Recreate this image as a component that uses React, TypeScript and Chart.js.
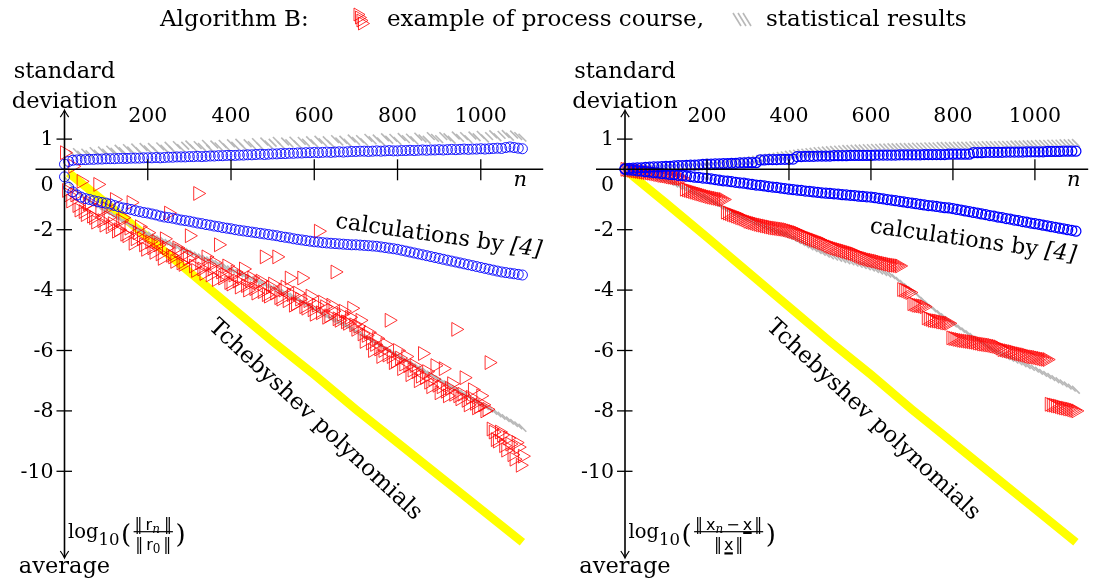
import React, { useEffect, useRef } from "react";
import { Chart, registerables } from "chart.js";

Chart.register(...registerables);

// Iteration index n is sampled every STEP iterations; "Mid" arrays sit halfway between.
const STEP = 10;

const xTickValues = [200, 400, 600, 800, 1000];
const yTickValues = [1, -2, -4, -6, -8, -10];

// Tchebyshev polynomial convergence (identical in both panels)
const tchebyshevN = [10, 100, 200, 300, 400, 500, 600, 700, 800, 900, 1000, 1100];
const tchebyshevLog = [-0.12, -1.12, -2.25, -3.4, -4.55, -5.7, -6.8, -7.95, -9.05, -10.15, -11.25, -12.35];

// ---- Left panel: log10(||r_n|| / ||r_0||) ----
const residualStdRef = [
  0.17, 0.26, 0.3, 0.31, 0.32, 0.32, 0.33, 0.33, 0.34, 0.34,
  0.35, 0.35, 0.35, 0.36, 0.36, 0.36, 0.37, 0.37, 0.37, 0.38,
  0.38, 0.38, 0.39, 0.38, 0.39, 0.4, 0.4, 0.41, 0.41, 0.41,
  0.42, 0.42, 0.43, 0.42, 0.43, 0.44, 0.44, 0.45, 0.45, 0.46,
  0.46, 0.46, 0.47, 0.47, 0.48, 0.48, 0.49, 0.5, 0.49, 0.5,
  0.51, 0.51, 0.52, 0.52, 0.53, 0.53, 0.54, 0.54, 0.55, 0.55,
  0.56, 0.55, 0.56, 0.57, 0.56, 0.57, 0.58, 0.57, 0.58, 0.59,
  0.59, 0.6, 0.6, 0.59, 0.6, 0.61, 0.6, 0.61, 0.62, 0.61,
  0.61, 0.62, 0.62, 0.63, 0.62, 0.63, 0.64, 0.63, 0.64, 0.64,
  0.65, 0.64, 0.65, 0.66, 0.65, 0.66, 0.67, 0.66, 0.67, 0.67,
  0.68, 0.67, 0.68, 0.69, 0.7, 0.69, 0.72, 0.74, 0.72, 0.7, 0.68,
];
const residualAvgRef = [
  -0.25, -0.6, -0.75, -0.85, -0.92, -0.97, -1.0, -1.04, -1.07, -1.1,
  -1.12, -1.15, -1.2, -1.24, -1.28, -1.3, -1.33, -1.37, -1.4, -1.43,
  -1.45, -1.48, -1.51, -1.55, -1.58, -1.6, -1.62, -1.65, -1.68, -1.7,
  -1.72, -1.75, -1.78, -1.8, -1.83, -1.85, -1.88, -1.9, -1.93, -1.95,
  -1.97, -2.0, -2.02, -2.04, -2.06, -2.08, -2.1, -2.12, -2.14, -2.16,
  -2.18, -2.2, -2.23, -2.25, -2.27, -2.3, -2.32, -2.34, -2.36, -2.38,
  -2.4, -2.41, -2.43, -2.44, -2.45, -2.46, -2.47, -2.48, -2.49, -2.5,
  -2.5, -2.51, -2.52, -2.53, -2.54, -2.55, -2.57, -2.59, -2.61, -2.63,
  -2.65, -2.68, -2.71, -2.74, -2.77, -2.8, -2.83, -2.86, -2.89, -2.92,
  -2.95, -2.98, -3.01, -3.04, -3.07, -3.1, -3.13, -3.16, -3.19, -3.22,
  -3.25, -3.28, -3.31, -3.34, -3.37, -3.4, -3.42, -3.44, -3.46, -3.48, -3.5,
];
const residualStdStat = [
  null, null, 0.5, 0.57, 0.48, 0.55, 0.5, 0.6, 0.52, 0.62,
  0.55, 0.65, 0.58, 0.68, 0.6, 0.7, 0.62, 0.72, 0.6, 0.74,
  0.66, 0.74, 0.62, 0.76, 0.68, 0.78, 0.64, 0.8, 0.7, 0.78,
  0.82, 0.7, 0.8, 0.74, 0.84, 0.68, 0.82, 0.76, 0.84, 0.72,
  0.86, 0.78, 0.88, 0.74, 0.86, 0.8, 0.9, 0.76, 0.92, 0.82,
  0.88, 0.94, 0.8, 0.92, 0.86, 0.95, 0.82, 0.94, 0.88, 0.96,
  0.86, 0.98, 0.9, 0.96, 0.84, 1.0, 0.92, 0.98, 0.88, 1.02,
  0.94, 1.0, 0.9, 1.04, 0.96, 1.02, 0.92, 1.06, 0.98, 1.04,
  0.94, 1.07, 1.0, 1.05, 0.96, 1.08, 1.02, 0.98, 1.1, 1.04,
  1.0, 1.1, 1.06, 0.98, 1.12, 1.04, 1.1, 1.0, 1.12, 1.06,
  1.14, 1.02, 1.1, 1.16, 1.06, 1.14, 1.17, 1.08, 1.15, 1.1, 1.05,
];
const residualAvgStat = [
  null, -0.4, -0.6, -0.75, -0.85, -0.95, -1.05, -1.15, -1.22, -1.3,
  -1.38, -1.46, -1.54, -1.62, -1.7, -1.78, -1.86, -1.94, -2.0, -2.08,
  -2.15, -2.2, -2.26, -2.32, -2.38, -2.44, -2.5, -2.56, -2.62, -2.68,
  -2.74, -2.8, -2.86, -2.92, -2.97, -3.02, -3.08, -3.14, -3.2, -3.26,
  -3.32, -3.38, -3.44, -3.5, -3.56, -3.62, -3.68, -3.74, -3.8, -3.86,
  -3.92, -3.98, -4.04, -4.1, -4.16, -4.22, -4.3, -4.38, -4.46, -4.54,
  -4.62, -4.7, -4.78, -4.86, -4.94, -5.0, -5.06, -5.12, -5.2, -5.28,
  -5.36, -5.44, -5.52, -5.6, -5.68, -5.76, -5.84, -5.92, -6.0, -6.08,
  -6.16, -6.24, -6.32, -6.4, -6.48, -6.56, -6.64, -6.72, -6.8, -6.88,
  -6.96, -7.04, -7.12, -7.2, -7.28, -7.36, -7.44, -7.52, -7.6, -7.68,
  -7.76, -7.84, -7.92, -8.0, -8.08, -8.16, -8.24, -8.32, -8.4, -8.48, -8.56,
];
const residualExample = [
  0.55, -0.85, 0.1, -1.2, -0.4, -1.5, -1.1, -1.6, -0.5, -1.7,
  -1.3, -1.9, -1.0, -2.0, -1.6, -2.2, -1.1, -2.3, -1.9, -2.5,
  -2.1, -2.6, -2.4, -2.8, -2.3, -1.45, -2.9, -2.6, -3.1, -2.8,
  -2.2, -3.2, -0.8, -3.3, -2.9, -3.5, -3.1, -2.5, -3.6, -3.2,
  -3.8, -3.4, -3.9, -3.3, -4.0, -3.6, -4.1, -3.7, -2.9, -4.2,
  -3.8, -2.9, -4.3, -3.9, -3.6, -4.5, -4.1, -3.6, -4.6, -4.2,
  -4.8, -2.05, -4.4, -4.9, -4.5, -3.4, -5.0, -4.7, -5.1, -4.6,
  -5.3, -5.0, -5.7, -5.4, -6.0, -5.6, -6.2, -5.8, -5.0, -6.4,
  -6.0, -6.6, -6.2, -6.8, -6.5, -7.0, -6.1, -6.7, -7.2, -6.5,
  -7.4, -6.6, -7.5, -7.1, -5.3, -7.6, -6.9, -7.8, -7.3, -7.9,
  -7.5, -8.0, -6.4, -8.7, -9.0, -8.8, -9.3, -9.1, -9.6, -9.2, -9.5,
];
const residualExampleMid = [
  -0.7, -1.05, -0.85, -1.35, -1.4, -1.15, -1.55, -1.75, -1.35, -1.85,
  -1.6, -1.8, -2.05, -1.7, -2.15, -1.95, -2.45, -2.1, -2.3, -2.65,
  -2.4, -2.75, -2.5, -2.95, -2.6, -2.85, -3.05, -2.7, -3.15, -2.95,
  -2.9, -3.35, -3.1, -3.45, -3.15, -3.3, -3.65, -3.4, -3.5, -3.75,
  -3.5, -3.7, -3.55, -3.85, -3.7, -3.95, -3.75, -4.05, -4.15, -3.9,
  -4.1, -4.25, -4.0, -4.35, -4.15, -4.45, -4.3, -4.55, -4.35, -4.65,
  -4.5, -4.75, -4.55, -4.85, -4.7, -4.95, -4.8, -5.05, -4.9, -5.15,
  -5.2, -5.45, -5.5, -5.75, -5.8, -5.95, -6.0, -6.15, -6.2, -6.35,
  -6.25, -6.45, -6.5, -6.65, -6.7, -6.85, -6.9, -7.05, -6.95, -7.15,
  -7.2, -7.35, -7.25, -7.45, -7.5, -7.45, -7.65, -7.55, -7.75, -7.85,
  -7.8, -7.95, -8.6, -8.95, -8.7, -9.15, -8.9, -9.45, -9.05, -9.8,
];

// ---- Right panel: log10(||x_n - x|| / ||x||) ----
const errorStdRef = [
  0.02, 0.03, 0.04, 0.05, 0.05, 0.06, 0.07, 0.08, 0.08, 0.09,
  0.1, 0.1, 0.11, 0.12, 0.12, 0.13, 0.14, 0.14, 0.15, 0.16,
  0.17, 0.17, 0.18, 0.18, 0.19, 0.19, 0.2, 0.2, 0.21, 0.21,
  0.22, 0.22, 0.22, 0.31, 0.31, 0.32, 0.32, 0.32, 0.33, 0.33,
  0.33, 0.34, 0.42, 0.42, 0.43, 0.43, 0.43, 0.44, 0.44, 0.44,
  0.44, 0.45, 0.45, 0.45, 0.45, 0.46, 0.46, 0.46, 0.46, 0.46,
  0.46, 0.47, 0.47, 0.47, 0.47, 0.47, 0.47, 0.48, 0.48, 0.48,
  0.48, 0.48, 0.48, 0.49, 0.49, 0.49, 0.49, 0.49, 0.49, 0.5,
  0.5, 0.5, 0.5, 0.5, 0.5, 0.55, 0.55, 0.55, 0.56, 0.56,
  0.56, 0.56, 0.56, 0.57, 0.57, 0.57, 0.57, 0.57, 0.58, 0.58,
  0.58, 0.58, 0.58, 0.59, 0.59, 0.59, 0.59, 0.6, 0.6, 0.6, 0.6,
];
const errorAvgRef = [
  0.0, -0.02, -0.03, -0.05, -0.06, -0.08, -0.09, -0.11, -0.12, -0.14,
  -0.15, -0.17, -0.18, -0.2, -0.21, -0.23, -0.24, -0.26, -0.27, -0.29,
  -0.3, -0.32, -0.34, -0.36, -0.38, -0.39, -0.41, -0.43, -0.45, -0.46,
  -0.48, -0.5, -0.52, -0.53, -0.55, -0.57, -0.59, -0.6, -0.62, -0.64,
  -0.66, -0.67, -0.69, -0.7, -0.72, -0.73, -0.75, -0.76, -0.78, -0.79,
  -0.8, -0.81, -0.82, -0.84, -0.85, -0.86, -0.87, -0.89, -0.9, -0.91,
  -0.92, -0.94, -0.96, -0.98, -1.0, -1.02, -1.04, -1.06, -1.08, -1.1,
  -1.12, -1.14, -1.16, -1.18, -1.2, -1.21, -1.23, -1.25, -1.27, -1.28,
  -1.3, -1.33, -1.35, -1.38, -1.4, -1.43, -1.45, -1.48, -1.5, -1.53,
  -1.55, -1.58, -1.6, -1.63, -1.65, -1.68, -1.7, -1.73, -1.75, -1.78,
  -1.8, -1.82, -1.85, -1.87, -1.9, -1.92, -1.95, -1.97, -2.0, -2.02, -2.05,
];
const errorStdStat = [
  0.0, 0.01, 0.01, 0.02, 0.02, 0.03, 0.03, 0.04, 0.04, 0.05,
  0.05, 0.06, 0.06, 0.07, 0.07, 0.08, 0.08, 0.09, 0.09, 0.1,
  0.1, 0.11, 0.12, 0.14, 0.16, 0.18, 0.2, 0.22, 0.24, 0.26,
  0.28, 0.3, 0.32, 0.34, 0.36, 0.38, 0.4, 0.42, 0.44, 0.46,
  0.48, 0.5, 0.52, 0.54, 0.55, 0.57, 0.58, 0.6, 0.61, 0.62,
  0.63, 0.64, 0.65, 0.66, 0.67, 0.67, 0.68, 0.69, 0.69, 0.7,
  0.7, 0.71, 0.71, 0.72, 0.72, 0.73, 0.73, 0.73, 0.74, 0.74,
  0.74, 0.75, 0.75, 0.75, 0.76, 0.76, 0.76, 0.77, 0.77, 0.77,
  0.77, 0.78, 0.78, 0.78, 0.78, 0.79, 0.79, 0.79, 0.8, 0.8,
  0.8, 0.8, 0.81, 0.81, 0.81, 0.82, 0.82, 0.82, 0.83, 0.83,
  0.83, 0.84, 0.84, 0.84, 0.85, 0.85, 0.85, 0.86, 0.86, 0.86, 0.87,
];
const errorAvgStat = [
  0.0, -0.03, -0.06, -0.09, -0.12, -0.15, -0.19, -0.23, -0.27, -0.31,
  -0.35, -0.41, -0.47, -0.53, -0.59, -0.65, -0.71, -0.77, -0.83, -0.89,
  -0.95, -1.03, -1.11, -1.19, -1.27, -1.35, -1.41, -1.47, -1.53, -1.59,
  -1.65, -1.71, -1.77, -1.83, -1.89, -1.95, -2.0, -2.05, -2.1, -2.15,
  -2.2, -2.27, -2.34, -2.41, -2.48, -2.55, -2.61, -2.67, -2.73, -2.79,
  -2.85, -2.89, -2.93, -2.97, -3.01, -3.05, -3.09, -3.13, -3.17, -3.21,
  -3.25, -3.3, -3.35, -3.4, -3.45, -3.5, -3.6, -3.7, -3.8, -3.9,
  -4.0, -4.12, -4.24, -4.36, -4.48, -4.6, -4.7, -4.8, -4.9, -5.0,
  -5.1, -5.19, -5.28, -5.37, -5.46, -5.55, -5.64, -5.73, -5.82, -5.91,
  -6.0, -6.06, -6.12, -6.18, -6.24, -6.3, -6.36, -6.42, -6.48, -6.54,
  -6.6, -6.67, -6.74, -6.81, -6.88, -6.95, -7.02, -7.09, -7.16, -7.23, -7.3,
];
const errorExample = [
  0.0, -0.02, -0.04, -0.06, -0.08, -0.1, -0.12, -0.14, -0.17, -0.2,
  -0.22, -0.25, -0.27, -0.29, -0.31, -0.68, -0.72, -0.76, -0.8, -0.84,
  -0.88, -0.92, -0.95, -0.98, -1.0, -1.45, -1.5, -1.55, -1.6, -1.65,
  -1.72, -1.76, -1.8, -1.84, -1.87, -1.9, -1.93, -1.95, -1.97, -1.99,
  -2.02, -2.06, -2.1, -2.16, -2.22, -2.28, -2.33, -2.38, -2.43, -2.48,
  -2.55, -2.6, -2.64, -2.68, -2.72, -2.76, -2.8, -2.86, -2.92, -2.96,
  -3.0, -3.03, -3.06, -3.1, -3.13, -3.16, -3.18, -3.2, -4.0, -4.05,
  -4.45, -4.5, -4.52, -4.55, -4.95, -5.0, -5.02, -5.05, -5.08, -5.1,
  -5.6, -5.63, -5.66, -5.68, -5.7, -5.72, -5.75, -5.78, -5.8, -5.82,
  -5.85, -5.88, -5.97, -6.0, -6.03, -6.06, -6.1, -6.13, -6.16, -6.2,
  -6.22, -6.25, -6.28, -6.3, -7.8, -7.83, -7.86, -7.9, -7.93, -7.96, -8.0,
];
const errorExampleMid = [
  -0.01, -0.03, -0.05, -0.07, -0.09, -0.11, -0.13, -0.15, -0.18, -0.21,
  -0.23, -0.26, -0.28, -0.3, -0.66, -0.7, -0.74, -0.78, -0.82, -0.86,
  -0.9, -0.93, -0.96, -0.99, -1.42, -1.47, -1.52, -1.57, -1.62, -1.68,
  -1.74, -1.78, -1.82, -1.85, -1.88, -1.91, -1.94, -1.96, -1.98, -2.0,
  -2.04, -2.08, -2.13, -2.19, -2.25, -2.3, -2.35, -2.4, -2.45, -2.52,
  -2.57, -2.62, -2.66, -2.7, -2.74, -2.78, -2.83, -2.89, -2.94, -2.98,
  -3.01, -3.04, -3.08, -3.11, -3.14, -3.17, -3.19, -3.98, -4.02, -4.08,
  -4.47, -4.51, -4.53, -4.92, -4.97, -5.01, -5.03, -5.06, -5.09, -5.58,
  -5.61, -5.64, -5.67, -5.69, -5.71, -5.73, -5.76, -5.79, -5.81, -5.83,
  -5.86, -5.92, -5.98, -6.01, -6.04, -6.08, -6.11, -6.14, -6.18, -6.21,
  -6.23, -6.26, -6.29, -7.78, -7.81, -7.84, -7.88, -7.91, -7.94, -7.98,
];

const SERIF = '"DejaVu Serif"';
const SANS = '"DejaVu Sans"';

type Seg = { t: string; f: string; dy?: number; ul?: boolean; gap?: number };

function segsWidth(ctx: CanvasRenderingContext2D, segs: Seg[]) {
  let w = 0;
  for (const s of segs) {
    ctx.font = s.f;
    w += ctx.measureText(s.t).width + (s.gap || 0);
  }
  return w;
}

function drawSegs(ctx: CanvasRenderingContext2D, segs: Seg[], x: number, y: number) {
  let cx = x;
  for (const s of segs) {
    ctx.font = s.f;
    const w = ctx.measureText(s.t).width;
    ctx.fillText(s.t, cx, y + (s.dy || 0));
    if (s.ul) ctx.fillRect(cx + 0.5, y + 2, w - 1, 2.2);
    cx += w + (s.gap || 0);
  }
  return cx;
}

function drawCentered(ctx: CanvasRenderingContext2D, segs: Seg[], cx: number, y: number) {
  drawSegs(ctx, segs, cx - segsWidth(ctx, segs) / 2, y);
}

const barFont = `16px ${SERIF}`;
const fracSans = `16px ${SANS}`;
const fracSub = `italic 12px ${SERIF}`;
const fracSubUp = `12px ${SERIF}`;
const bars = "\u2016";

const labelSpecs: Record<string, any> = {
  residual: {
    num: [
      { t: bars, f: barFont, gap: 3 },
      { t: "r", f: fracSans },
      { t: "n", f: fracSub, dy: 3, gap: 4 },
      { t: bars, f: barFont },
    ],
    den: [
      { t: bars, f: barFont, gap: 3 },
      { t: "r", f: fracSans },
      { t: "0", f: fracSubUp, dy: 3, gap: 3 },
      { t: bars, f: barFont },
    ],
    calcAt: [897, -2.41],
    tchebAt: [602, -8.3],
    axisEnd: 1150,
  },
  error: {
    num: [
      { t: bars, f: barFont, gap: 3 },
      { t: "x", f: fracSans },
      { t: "n", f: fracSub, dy: 3, gap: 3 },
      { t: "\u2212", f: barFont, gap: 3 },
      { t: "x", f: fracSans, ul: true, gap: 2 },
      { t: bars, f: barFont },
    ],
    den: [
      { t: bars, f: barFont, gap: 2 },
      { t: "x", f: fracSans, ul: true, gap: 2 },
      { t: bars, f: barFont },
    ],
    calcAt: [847, -2.57],
    tchebAt: [605, -8.3],
    axisEnd: 1130,
  },
};

function arrowHead(ctx: CanvasRenderingContext2D, x: number, y: number, dir: number) {
  ctx.beginPath();
  ctx.moveTo(x - 4.2, y - dir * 7);
  ctx.quadraticCurveTo(x - 1, y - dir * 2.5, x, y);
  ctx.quadraticCurveTo(x + 1, y - dir * 2.5, x + 4.2, y - dir * 7);
  ctx.stroke();
}

const panelDecor = {
  id: "panelDecor",
  afterDatasetsDraw(chart: any, _args: any, opts: any) {
    const spec = labelSpecs[opts.kind];
    const { ctx } = chart;
    const xs = chart.scales.x;
    const ys = chart.scales.y;
    const ax = xs.getPixelForValue(0);
    const ay = ys.getPixelForValue(0);
    ctx.save();
    ctx.strokeStyle = "#000";
    ctx.fillStyle = "#000";
    ctx.lineCap = "butt";

    // axes
    ctx.lineWidth = 1.6;
    ctx.beginPath();
    ctx.moveTo(ax - 29, ay);
    ctx.lineTo(xs.getPixelForValue(spec.axisEnd), ay);
    ctx.stroke();
    const topY = ys.getPixelForValue(1.96);
    const botY = ys.getPixelForValue(-12.87);
    ctx.beginPath();
    ctx.moveTo(ax, topY + 1);
    ctx.lineTo(ax, botY - 1);
    ctx.stroke();
    ctx.lineWidth = 1.2;
    arrowHead(ctx, ax, topY, -1);
    arrowHead(ctx, ax, botY, 1);

    // ticks
    ctx.lineWidth = 1.3;
    for (const t of xTickValues) {
      const px = xs.getPixelForValue(t);
      ctx.beginPath();
      ctx.moveTo(px, ay - 10);
      ctx.lineTo(px, ay + 11);
      ctx.stroke();
    }
    for (const t of yTickValues) {
      const py = ys.getPixelForValue(t);
      ctx.beginPath();
      ctx.moveTo(ax - 8, py);
      ctx.lineTo(ax + 7.5, py);
      ctx.stroke();
    }

    // tick labels
    ctx.font = `20.5px ${SERIF}`;
    ctx.textAlign = "center";
    ctx.textBaseline = "middle";
    for (const t of xTickValues) {
      ctx.fillText(String(t), xs.getPixelForValue(t), ay - 53);
    }
    ctx.textAlign = "right";
    for (const t of yTickValues) {
      ctx.fillText(String(t), ax - 11, ys.getPixelForValue(t) + 1);
    }
    ctx.fillText("0", ax - 11, ay + 16);
    ctx.textAlign = "center";
    ctx.font = `italic 21px ${SERIF}`;
    ctx.fillText("n", xs.getPixelForValue(1095), ay + 11);

    // axis captions
    ctx.textBaseline = "alphabetic";
    ctx.font = `22.5px ${SERIF}`;
    ctx.fillText("standard", ax, ay - 91.3);
    ctx.fillText("deviation", ax, ay - 61.3);
    ctx.fillText("average", ax, ay + 403.5);

    // log10( fraction )
    ctx.textAlign = "left";
    let cx = ax + 3.5;
    const base = ay + 368.3;
    cx = drawSegs(ctx, [{ t: "log", f: `19.5px ${SERIF}` }], cx, base);
    cx = drawSegs(ctx, [{ t: "10", f: `16.5px ${SERIF}` }], cx, base + 7.5);
    cx = drawSegs(ctx, [{ t: "(", f: `26px ${SERIF}` }], cx + 1.5, base + 5.5);
    const fw = Math.max(segsWidth(ctx, spec.num), segsWidth(ctx, spec.den)) + 2;
    const fc = cx + 2.5 + fw / 2;
    drawCentered(ctx, spec.num, fc, ay + 360.5);
    drawCentered(ctx, spec.den, fc, ay + 381);
    ctx.fillRect(fc - fw / 2, ay + 361.8, fw, 1.2);
    drawSegs(ctx, [{ t: ")", f: `26px ${SERIF}` }], fc + fw / 2 + 2.5, base + 5.5);

    // rotated curve labels
    const calc: Seg[] = [
      { t: "calculations by ", f: `22.3px ${SERIF}` },
      { t: "[4]", f: `italic 22.3px ${SERIF}` },
    ];
    ctx.save();
    ctx.translate(xs.getPixelForValue(spec.calcAt[0]), ys.getPixelForValue(spec.calcAt[1]));
    ctx.rotate((8 * Math.PI) / 180);
    drawCentered(ctx, calc, 0, 0);
    ctx.restore();

    ctx.save();
    ctx.translate(xs.getPixelForValue(spec.tchebAt[0]), ys.getPixelForValue(spec.tchebAt[1]));
    ctx.rotate((43 * Math.PI) / 180);
    ctx.textAlign = "center";
    ctx.textBaseline = "middle";
    ctx.font = `23px ${SERIF}`;
    ctx.fillText("Tchebyshev polynomials", 0, 0);
    ctx.restore();

    ctx.restore();
  },
};

const toPoints = (vals: (number | null)[], offset = 0) =>
  vals
    .map((v, i) => (v === null ? null : { x: offset + i * STEP, y: v }))
    .filter((p) => p !== null) as { x: number; y: number }[];

const clear = "rgba(0,0,0,0)";

function buildDatasets(s: any, blueWidth: number) {
  const blue = {
    pointStyle: "circle",
    pointRadius: 5,
    pointBorderWidth: blueWidth,
    pointBorderColor: "#0000ff",
    pointBackgroundColor: clear,
    order: 1,
    clip: false,
  };
  const red = {
    pointStyle: "triangle",
    pointRotation: 90,
    pointRadius: 8,
    pointBorderWidth: 0.8,
    pointBorderColor: "#ff0000",
    pointBackgroundColor: clear,
    order: 2,
    clip: false,
  };
  const grey = {
    pointStyle: "line",
    pointRotation: 45,
    pointRadius: 5.5,
    pointBorderWidth: 1.6,
    pointBorderColor: "#b8b8b8",
    order: 3,
    clip: false,
  };
  return [
    { label: "calculations by [4] (std)", data: toPoints(s.stdRef), ...blue },
    { label: "calculations by [4] (avg)", data: toPoints(s.avgRef), ...blue },
    { label: "example of process course", data: toPoints(s.example), ...red },
    { label: "example of process course", data: toPoints(s.exampleMid, STEP / 2), ...red },
    { label: "statistical results (std)", data: toPoints(s.stdStat), ...grey },
    { label: "statistical results (avg)", data: toPoints(s.avgStat), ...grey },
    {
      label: "Tchebyshev polynomials",
      data: tchebyshevN.map((n, i) => ({ x: n, y: tchebyshevLog[i] })),
      showLine: true,
      borderColor: "#ffff00",
      borderWidth: 8.5,
      borderCapStyle: "butt",
      pointRadius: 0,
      order: 4,
      clip: false,
    },
  ];
}

type PanelProps = {
  left: number;
  width: number;
  kind: string;
  padding: { left: number; right: number; top: number; bottom: number };
  series: any;
  blueWidth: number;
};

function Panel({ left, width, kind, padding, series, blueWidth }: PanelProps) {
  const ref = useRef<HTMLCanvasElement>(null);
  useEffect(() => {
    const chart = new Chart(ref.current as HTMLCanvasElement, {
      type: "scatter",
      data: { datasets: buildDatasets(series, blueWidth) as any },
      options: {
        animation: false,
        responsive: false,
        devicePixelRatio: 1,
        layout: { padding },
        events: [],
        scales: {
          x: { type: "linear", min: 0, max: 1130, display: false },
          y: { type: "linear", min: -13, max: 3, display: false },
        },
        plugins: {
          legend: { display: false },
          tooltip: { enabled: false },
          panelDecor: { kind },
        } as any,
      },
      plugins: [panelDecor as any],
    });
    return () => chart.destroy();
  }, []);
  return (
    <canvas
      ref={ref}
      width={width}
      height={582}
      style={{ position: "absolute", left, top: 0, width, height: 582 }}
    />
  );
}

const titleFont: React.CSSProperties = {
  position: "absolute",
  top: 4,
  font: `23px ${SERIF}`,
  lineHeight: "28px",
  whiteSpace: "pre",
  color: "#000",
};

function ProcessIcon() {
  return (
    <svg width={24} height={26} style={{ position: "absolute", left: 351, top: 6 }}>
      {[0, 1, 2, 3].map((k) => (
        <path
          key={k}
          d={`M${3 + k * 1.5} ${2 + k * 3} L${14 + k * 1.5} ${8.5 + k * 3} L${3 + k * 1.5} ${15 + k * 3} Z`}
          fill="none"
          stroke="#ff0000"
          strokeWidth={0.8}
        />
      ))}
    </svg>
  );
}

function StatIcon() {
  return (
    <svg width={24} height={26} style={{ position: "absolute", left: 731, top: 6 }}>
      {[0, 1, 2].map((k) => (
        <line
          key={k}
          x1={2 + k * 5}
          y1={7}
          x2={10 + k * 5}
          y2={20}
          stroke="#b8b8b8"
          strokeWidth={1.6}
        />
      ))}
    </svg>
  );
}

export default function App() {
  return (
    <div style={{ position: "absolute", left: 0, top: 0, width: 1097, height: 582, background: "#fff", overflow: "hidden" }}>
      <Panel
        left={0}
        width={548}
        kind="residual"
        blueWidth={0.9}
        padding={{ left: 64.5, right: 13.1, top: 78.7, bottom: 20.1 }}
        series={{
          stdRef: residualStdRef,
          avgRef: residualAvgRef,
          stdStat: residualStdStat,
          avgStat: residualAvgStat,
          example: residualExample,
          exampleMid: residualExampleMid,
        }}
      />
      <Panel
        left={548}
        width={549}
        kind="error"
        blueWidth={1.25}
        padding={{ left: 77, right: 1.1, top: 78.7, bottom: 20.1 }}
        series={{
          stdRef: errorStdRef,
          avgRef: errorAvgRef,
          stdStat: errorStdStat,
          avgStat: errorAvgStat,
          example: errorExample,
          exampleMid: errorExampleMid,
        }}
      />
      <span style={{ ...titleFont, left: 160 }}>Algorithm B:</span>
      <ProcessIcon />
      <span style={{ ...titleFont, left: 387 }}>example of process course,</span>
      <StatIcon />
      <span style={{ ...titleFont, left: 766 }}>statistical results</span>
    </div>
  );
}
